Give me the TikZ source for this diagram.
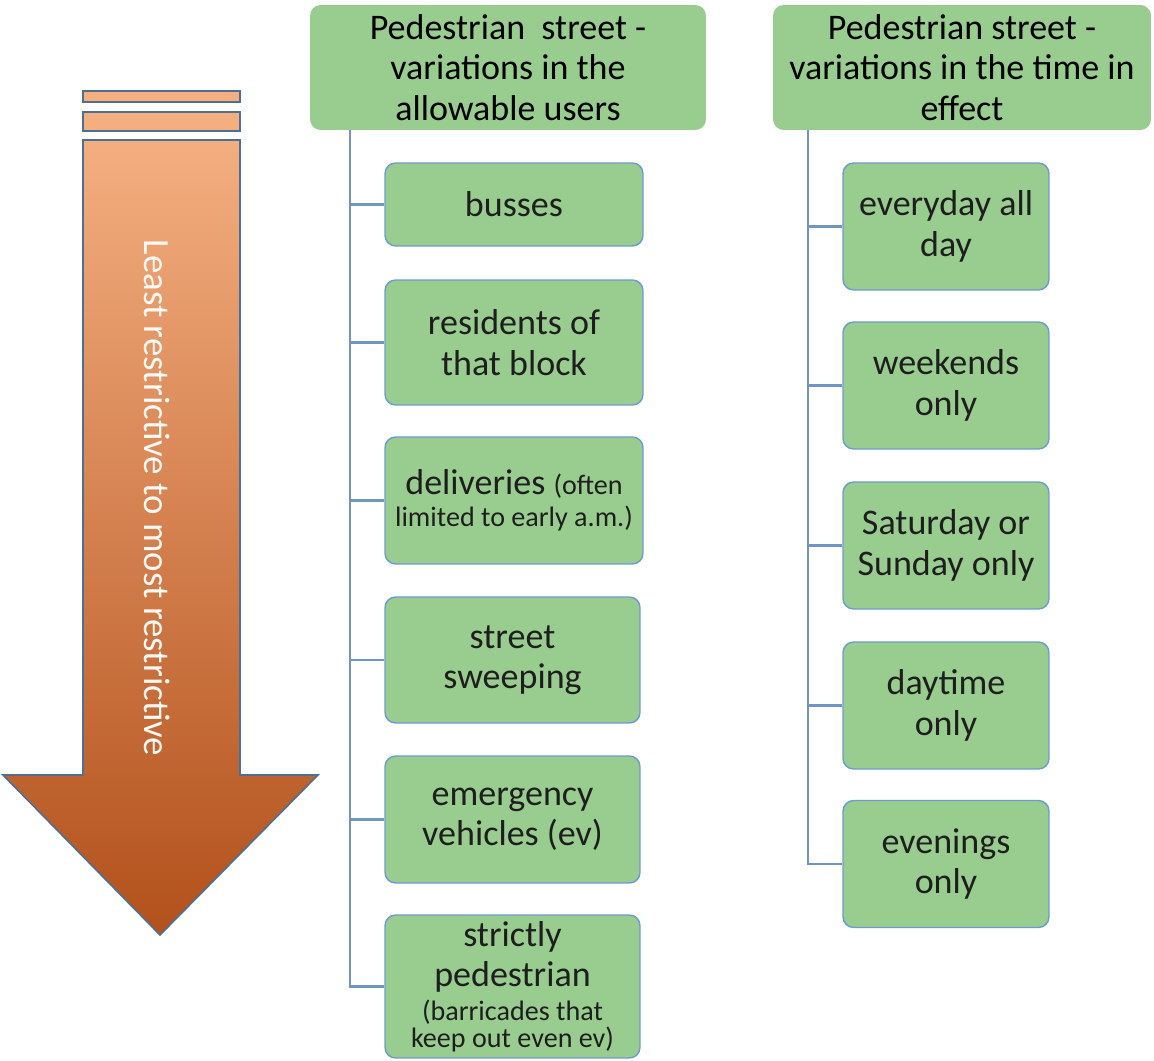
\documentclass[tikz,border=0pt]{standalone}
\usepackage{fontspec}
\setmainfont{Carlito}
\usepackage{xcolor}
\definecolor{boxgreen}{HTML}{99CD8F}
\definecolor{boxedge}{HTML}{6B9BD2}
\definecolor{treeline}{HTML}{6F95C4}
\definecolor{arrowedge}{HTML}{4E6F94}
\definecolor{arrowtop}{HTML}{F4AE80}
\definecolor{arrowmid}{HTML}{E9833F}
\definecolor{arrowbot}{HTML}{B2511B}
\definecolor{boxink}{HTML}{1E1E1E}

\begin{document}
\begin{tikzpicture}[x=0.02cm,y=-0.02cm,
  point/.style={coordinate},
  head/.style={fill=boxgreen, rounded corners=6pt, rectangle, align=center, text=black, font=\fontsize{20.5}{23}\selectfont, inner sep=0pt},
  leaf/.style={draw=boxedge, line width=0.8pt, fill=boxgreen, rounded corners=6pt, rectangle, align=center, text=boxink, font=\fontsize{20.5}{23}\selectfont, inner sep=0pt},
  tie/.style={draw=treeline, line width=1.2pt}]
\useasboundingbox (0,0) rectangle (1154,1061);
% the arrow on the left
\shade[top color=arrowtop, middle color=arrowmid, bottom color=arrowbot, draw=arrowedge, line width=0.9pt]
  (83,140) -- (240,140) -- (240,775) -- (318,775) -- (160,935) -- (3,775) -- (83,775) -- cycle;
\draw[fill=arrowtop, draw=arrowedge, line width=0.9pt] (83,91) rectangle (240,102);
\draw[fill=arrowtop, draw=arrowedge, line width=0.9pt] (83,112) rectangle (240,131);
\node[rotate=-90, text=white!92!arrowtop, font=\fontsize{21}{23}\selectfont] (label) at (157,498) {Least restrictive to most restrictive};
% allowable users
\node[head, minimum width=7.92cm, minimum height=2.5cm] (u0) at (508,67.5) {Pedestrian\ \ street -\\variations in the\\allowable users};
\node[leaf, minimum width=5.16cm, minimum height=1.66cm] (u1) at (514,204.5) {busses};
\node[leaf, minimum width=5.16cm, minimum height=2.5cm]  (u2) at (514,342.5) {residents of\\that block};
\node[leaf, minimum width=5.16cm, minimum height=2.54cm] (u3) at (514,500.5) {deliveries {\fontsize{16}{18}\selectfont(often}\\[-5pt]{\fontsize{16}{18}\selectfont limited to early a.m.)}};
\node[leaf, minimum width=5.1cm, minimum height=2.52cm]  (u4) at (512.5,660) {street\\sweeping};
\node[leaf, minimum width=5.1cm, minimum height=2.54cm]  (u5) at (512.5,819.5) {emergency\\vehicles (ev)};
\node[leaf, minimum width=5.1cm, minimum height=2.86cm]  (u6) at (512.5,986.5) {strictly\\pedestrian\\[-3.5pt]{\fontsize{16}{16}\selectfont(barricades that}\\[-8pt]{\fontsize{16}{16}\selectfont keep out even ev)}};
\node[point] (u7) at (350,130) {};
% time in effect
\node[head, minimum width=7.56cm, minimum height=2.5cm] (t0) at (962,67.5) {Pedestrian street -\\variations in the time in\\effect};
\node[leaf, minimum width=4.12cm, minimum height=2.54cm] (t1) at (946,226.5) {everyday all\\day};
\node[leaf, minimum width=4.12cm, minimum height=2.54cm] (t2) at (946,385.5) {weekends\\only};
\node[leaf, minimum width=4.12cm, minimum height=2.54cm] (t3) at (946,545.5) {Saturday or\\Sunday only};
\node[leaf, minimum width=4.12cm, minimum height=2.54cm] (t4) at (946,705.5) {daytime\\only};
\node[leaf, minimum width=4.12cm, minimum height=2.54cm] (t5) at (946,864) {evenings\\only};
\node[point] (t6) at (808,130) {};
\draw[tie]   (u7) |- (u1);
\draw[tie]   (u7) |- (u2);
\draw[tie]   (u7) |- (u3);
\draw[tie]   (u7) |- (u4);
\draw[tie]   (u7) |- (u5);
\draw[tie]   (u7) |- (u6);
\draw[tie]   (t6) |- (t1);
\draw[tie]   (t6) |- (t2);
\draw[tie]   (t6) |- (t3);
\draw[tie]   (t6) |- (t4);
\draw[tie]   (t6) |- (t5);
\end{tikzpicture}
\end{document}
